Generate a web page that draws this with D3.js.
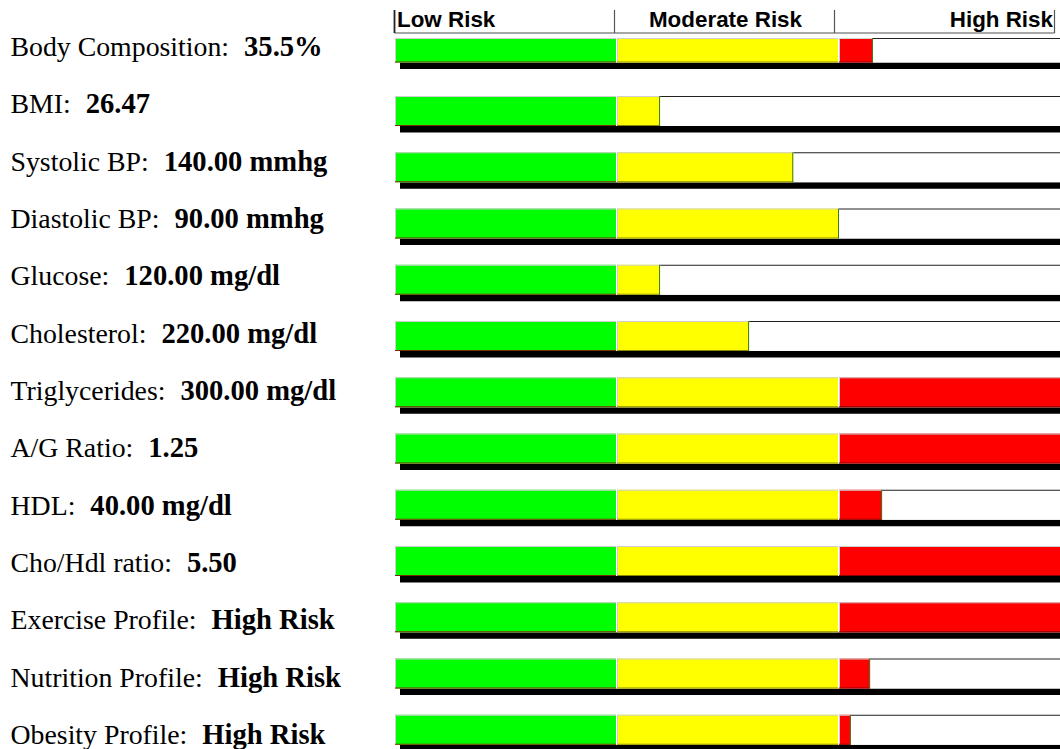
<!DOCTYPE html>
<html>
<head>
<meta charset="utf-8">
<script src="https://cdn.jsdelivr.net/npm/d3@7"></script>
<style>
  html, body { margin: 0; padding: 0; background: #fff; }
  svg { display: block; }
</style>
</head>
<body>
<div id="chart"></div>
<script>
// ---- data ----
const measures = ["Body Composition:", "BMI:", "Systolic BP:", "Diastolic BP:", "Glucose:", "Cholesterol:",
  "Triglycerides:", "A/G Ratio:", "HDL:", "Cho/Hdl ratio:", "Exercise Profile:", "Nutrition Profile:", "Obesity Profile:"];
const readings = ["35.5%", "26.47", "140.00 mmhg", "90.00 mmhg", "120.00 mg/dl", "220.00 mg/dl",
  "300.00 mg/dl", "1.25", "40.00 mg/dl", "5.50", "High Risk", "High Risk", "High Risk"];
// risk score on a 0..3 scale (0-1 low, 1-2 moderate, 2-3 high)
const riskScores = [2.153, 1.194, 1.794, 2.0, 1.194, 1.595, 3, 3, 2.194, 3, 3, 2.14, 2.053];
const riskLevels = ["Low Risk", "Moderate Risk", "High Risk"];
const segmentColors = ["#00ff00", "#ffff00", "#ff0000"];
const segmentEdge = ["#7a2a00", "#8a8a00", "#8a0000"];

// ---- layout ----
const W = 1060, H = 749;
const svg = d3.select("#chart").append("svg").attr("width", W).attr("height", H);

const x = d3.scaleLinear().domain([0, 3]).range([395, 1061]);
const hx = d3.scaleLinear().domain([0, 3]).range([394.5, 1054.5]);
const labelY = d3.scaleLinear().domain([0, 12]).range([56, 744]);
const barTop = d3.scaleLinear().domain([1, 12]).range([96, 714.75]);
const rowTop = i => i === 0 ? 38 : barTop(i);
const rowH = i => i === 0 ? 24.5 : 30;

// ---- header ----
const hdr = svg.append("g");
hdr.append("line").attr("x1", hx(0)).attr("x2", hx(3)).attr("y1", 33).attr("y2", 33)
  .attr("stroke", "#8a8a8a").attr("stroke-width", 1.5);
hdr.selectAll("line.tick").data(d3.range(0, 4)).join("line").attr("class", "tick")
  .attr("x1", d => hx(d)).attr("x2", d => hx(d)).attr("y1", 10).attr("y2", 33)
  .attr("stroke", (d, i) => i === 0 ? "#222" : "#555").attr("stroke-width", (d, i) => i === 0 ? 1.8 : 1.2);
hdr.selectAll("text").data(riskLevels).join("text")
  .attr("x", (d, i) => i === 0 ? hx(0) + 2.5 : i === 1 ? (hx(1) + hx(2)) / 2 + 1 : hx(3) - 1.5)
  .attr("y", 27.3)
  .attr("text-anchor", (d, i) => i === 0 ? "start" : i === 1 ? "middle" : "end")
  .attr("font-family", "'Liberation Sans', Arial, sans-serif")
  .attr("font-weight", "bold").attr("font-size", 22.4).attr("fill", "#000")
  .text(d => d);

// ---- labels ----
const labels = svg.append("g").selectAll("text").data(measures).join("text")
  .attr("x", 10.5).attr("y", (d, i) => labelY(i))
  .attr("font-family", "'Liberation Serif', 'Times New Roman', serif")
  .attr("font-size", 27.8).attr("fill", "#000");
labels.append("tspan").text(d => d);
labels.append("tspan").attr("dx", 15).attr("font-weight", "bold").attr("font-size", 28.6)
  .text((d, i) => readings[i]);

// ---- bars ----
const rows = svg.append("g").selectAll("g").data(riskScores).join("g");

// drop shadow
rows.append("rect")
  .attr("x", x(0) + 5).attr("width", W - x(0) - 5)
  .attr("y", (d, i) => rowTop(i) + rowH(i)).attr("height", 6.5)
  .attr("fill", "#000");
// white track with dark top border
rows.append("rect")
  .attr("x", x(0)).attr("width", W - x(0))
  .attr("y", (d, i) => rowTop(i)).attr("height", (d, i) => rowH(i))
  .attr("fill", "#fff");
rows.append("line")
  .attr("x1", d => x(d)).attr("x2", W)
  .attr("y1", (d, i) => rowTop(i) + 0.5).attr("y2", (d, i) => rowTop(i) + 0.5)
  .attr("stroke", "#222").attr("stroke-width", 1);

// coloured segments
rows.each(function (v, i) {
  const g = d3.select(this);
  const top = rowTop(i), h = rowH(i);
  riskLevels.forEach((lvl, s) => {
    if (v <= s) return;
    const end = Math.min(v, s + 1);
    const x0 = x(s);
    const x1 = x(end) - (v >= s + 1 && s < 2 ? 1 : 0);
    g.append("rect").attr("x", x0).attr("y", top).attr("width", Math.max(0, x1 - x0)).attr("height", h)
      .attr("fill", segmentColors[s]);
    // bevel: light top/left, darker bottom
    g.append("line").attr("x1", x0).attr("x2", x1).attr("y1", top + 0.5).attr("y2", top + 0.5)
      .attr("stroke", "#cfcfcf").attr("stroke-width", 1);
    g.append("line").attr("x1", x0 + 0.5).attr("x2", x0 + 0.5).attr("y1", top).attr("y2", top + h)
      .attr("stroke", "#cfcfcf").attr("stroke-width", 1);
    g.append("line").attr("x1", x0).attr("x2", x1).attr("y1", top + h - 0.5).attr("y2", top + h - 0.5)
      .attr("stroke", segmentEdge[s]).attr("stroke-width", 1);
  });
  // end marker of filled part
  if (v < 3) {
    g.append("line").attr("x1", x(v) - 0.5).attr("x2", x(v) - 0.5).attr("y1", top).attr("y2", top + h)
      .attr("stroke", "#3c7a1c").attr("stroke-width", 1);
  }
});
</script>
</body>
</html>
